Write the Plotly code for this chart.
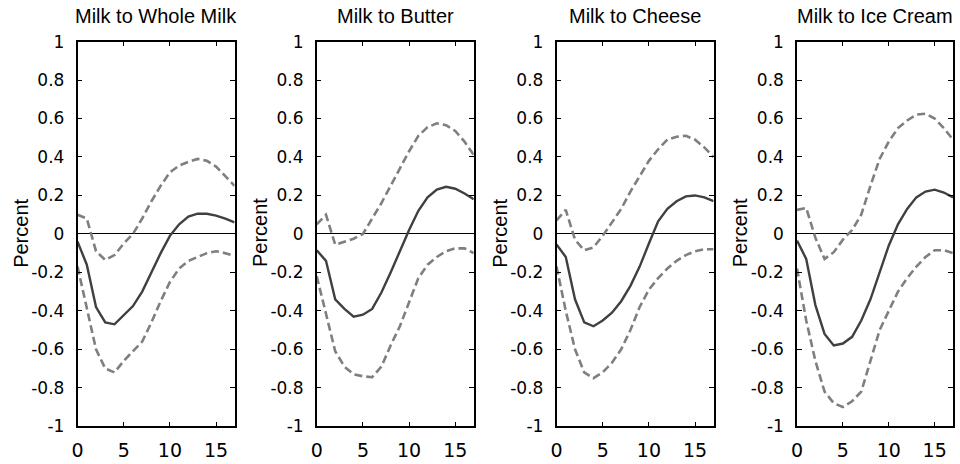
import plotly.graph_objects as go

# Impulse responses over 0..17 periods: point estimate and confidence bands
periods = list(range(18))
titles = ["Milk to Whole Milk", "Milk to Butter", "Milk to Cheese", "Milk to Ice Cream"]

whole_milk_mid = [-0.04, -0.16, -0.38, -0.46, -0.47, -0.42, -0.375, -0.30, -0.20, -0.10, -0.01, 0.05, 0.09, 0.105, 0.105, 0.095, 0.08, 0.06]
whole_milk_up = [0.10, 0.08, -0.09, -0.135, -0.11, -0.05, 0.0, 0.08, 0.17, 0.25, 0.32, 0.355, 0.375, 0.39, 0.38, 0.35, 0.30, 0.25]
whole_milk_lo = [-0.17, -0.38, -0.60, -0.70, -0.72, -0.66, -0.61, -0.56, -0.46, -0.35, -0.25, -0.18, -0.14, -0.12, -0.10, -0.09, -0.10, -0.115]

butter_mid = [-0.085, -0.14, -0.34, -0.39, -0.43, -0.42, -0.39, -0.305, -0.20, -0.09, 0.02, 0.12, 0.19, 0.23, 0.245, 0.235, 0.21, 0.18]
butter_up = [0.05, 0.10, -0.056, -0.04, -0.025, 0.0, 0.08, 0.16, 0.25, 0.34, 0.43, 0.51, 0.555, 0.575, 0.565, 0.535, 0.48, 0.41]
butter_lo = [-0.22, -0.42, -0.61, -0.69, -0.73, -0.74, -0.745, -0.69, -0.58, -0.48, -0.35, -0.23, -0.16, -0.12, -0.09, -0.075, -0.075, -0.10]

cheese_mid = [-0.055, -0.12, -0.34, -0.46, -0.48, -0.45, -0.41, -0.35, -0.27, -0.17, -0.05, 0.065, 0.13, 0.17, 0.195, 0.20, 0.19, 0.17]
cheese_up = [0.07, 0.125, -0.03, -0.085, -0.07, -0.01, 0.06, 0.13, 0.22, 0.30, 0.38, 0.44, 0.49, 0.505, 0.51, 0.49, 0.45, 0.40]
cheese_lo = [-0.17, -0.40, -0.60, -0.72, -0.75, -0.72, -0.67, -0.60, -0.50, -0.38, -0.29, -0.23, -0.18, -0.14, -0.11, -0.09, -0.08, -0.08]

ice_cream_mid = [-0.035, -0.13, -0.37, -0.52, -0.58, -0.57, -0.535, -0.45, -0.34, -0.20, -0.06, 0.05, 0.13, 0.19, 0.22, 0.23, 0.215, 0.19]
ice_cream_up = [0.125, 0.135, -0.02, -0.13, -0.095, -0.03, 0.02, 0.10, 0.25, 0.39, 0.48, 0.55, 0.59, 0.62, 0.625, 0.60, 0.55, 0.49]
ice_cream_lo = [-0.18, -0.45, -0.66, -0.82, -0.88, -0.90, -0.87, -0.82, -0.66, -0.50, -0.40, -0.30, -0.23, -0.17, -0.12, -0.085, -0.085, -0.10]

panels = [
    (whole_milk_mid, whole_milk_up, whole_milk_lo),
    (butter_mid, butter_up, butter_lo),
    (cheese_mid, cheese_up, cheese_lo),
    (ice_cream_mid, ice_cream_up, ice_cream_lo),
]

y_ticks = [-1, -0.8, -0.6, -0.4, -0.2, 0, 0.2, 0.4, 0.6, 0.8, 1]
y_tick_text = ["-1", "-0.8", "-0.6", "-0.4", "-0.2", "0", "0.2", "0.4", "0.6", "0.8", "1"]
x_ticks = [0, 5, 10, 15]

W, H = 960, 464
x_domains = [(72, 230), (312.7, 470.7), (554, 712), (796, 953)]
y_top, y_bot = 33, 435

band_color = "#7f7f7f"
est_color = "#404040"
text_font = "Liberation Sans, Arial, Helvetica, sans-serif"
tick_font = "DejaVu Sans, Verdana, sans-serif"

fig = go.Figure()
annotations = []
for i, (mid, up, lo) in enumerate(panels):
    n = "" if i == 0 else str(i + 1)
    xa, ya = "x" + n, "y" + n
    for band in (up, lo):
        fig.add_trace(go.Scatter(x=periods, y=band, mode="lines", xaxis=xa, yaxis=ya,
                                 line=dict(color=band_color, width=2.6, dash="8px,4px"),
                                 showlegend=False, hoverinfo="skip"))
    fig.add_trace(go.Scatter(x=periods, y=mid, mode="lines", xaxis=xa, yaxis=ya,
                             line=dict(color=est_color, width=2.4),
                             showlegend=False))
    x0, x1 = x_domains[i]
    axis_common = dict(showline=True, linecolor="black", linewidth=1.5, mirror="ticks",
                       ticks="inside", ticklen=5, tickwidth=1, tickcolor="black",
                       showgrid=False)
    fig.layout["xaxis" + n] = dict(domain=[x0 / W, x1 / W], range=[0, 17], tickvals=x_ticks,
                                   anchor=ya, zeroline=False, ticklabelstandoff=6,
                                   tickfont=dict(family=tick_font, size=19, color="black"),
                                   **axis_common)
    fig.layout["yaxis" + n] = dict(domain=[1 - y_bot / H, 1 - y_top / H], range=[-1, 1],
                                   tickvals=y_ticks, ticktext=y_tick_text, anchor=xa,
                                   zeroline=True, zerolinecolor="black", zerolinewidth=1,
                                   ticklabelstandoff=8,
                                   tickfont=dict(family=tick_font, size=17, color="black"),
                                   **axis_common)
    annotations.append(dict(text=titles[i], x=(x0 + x1) / 2 / W, y=1 - 6 / H,
                            xref="paper", yref="paper", showarrow=False,
                            xanchor="center", yanchor="middle",
                            font=dict(family=text_font, size=20, color="black")))
    annotations.append(dict(text="Percent", x=(x0 - 57) / W, y=1 - 233 / H,
                            xref="paper", yref="paper", showarrow=False, textangle=-90,
                            xanchor="center", yanchor="middle",
                            font=dict(family=text_font, size=20, color="black")))

fig.update_layout(width=W, height=H, margin=dict(l=0, r=0, t=0, b=0),
                  paper_bgcolor="white", plot_bgcolor="white",
                  annotations=annotations)
fig.write_html("out.html")
